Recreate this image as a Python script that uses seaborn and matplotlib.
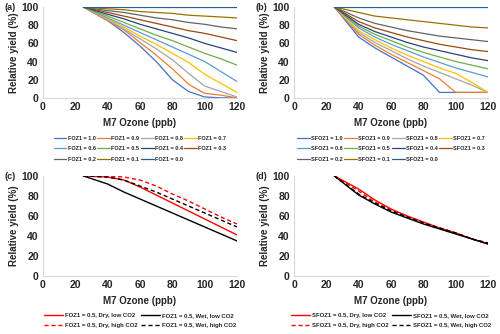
import pandas as pd
import seaborn as sns
from matplotlib import pyplot as plt

# Data
ozone = [25, 40, 50, 60, 70, 80, 90, 100, 110, 120]
foz_levels = ['1.0', '0.9', '0.8', '0.7', '0.6', '0.5', '0.4', '0.3', '0.2', '0.1', '0.0']

foz_a = [
    [100, 85, 72, 57, 40, 20, 7, 1, 0, 0],
    [100, 85, 75, 61, 47, 32, 15, 5, 3, 0],
    [100, 86, 76, 65, 54, 42, 27, 13, 7, 1],
    [100, 87, 78, 68, 59, 49, 39, 26, 16, 6],
    [100, 88, 80, 72, 64, 56, 48, 40, 29, 18],
    [100, 90, 83, 76, 69, 63, 56, 49, 43, 36],
    [100, 92, 87, 81, 76, 71, 66, 60, 55, 50],
    [100, 94, 90, 86, 82, 78, 74, 71, 67, 63],
    [100, 96, 94, 91, 88, 86, 83, 81, 78, 76],
    [100, 98, 97, 95, 94, 93, 91, 90, 89, 88],
    [100, 100, 100, 100, 100, 100, 100, 100, 100, 100],
]

sfoz_b = [
    [100, 67, 55, 45, 35, 25, 6, 6, 6, 6],
    [100, 70, 58, 48, 39, 30, 21, 6, 6, 6],
    [100, 72, 61, 52, 43, 35, 28, 21, 14, 6],
    [100, 74, 64, 55, 47, 40, 33, 27, 17, 6],
    [100, 77, 67, 59, 52, 45, 39, 33, 28, 23],
    [100, 79, 70, 63, 56, 50, 45, 40, 36, 32],
    [100, 81, 73, 67, 61, 56, 52, 48, 44, 41],
    [100, 84, 77, 72, 67, 63, 59, 56, 53, 51],
    [100, 88, 82, 78, 74, 71, 68, 66, 64, 62],
    [100, 94, 90, 88, 86, 84, 82, 80, 78, 77],
    [100, 100, 100, 100, 100, 100, 100, 100, 100, 100],
]

# panel c/d: dry low, dry high, wet low, wet high
scen_names = ['Dry, low CO2', 'Dry, high CO2', 'Wet, low CO2', 'Wet, high CO2']
foz_c = [
    [100, 99, 96, 89, 81, 73, 65, 57, 49, 41],
    [100, 100, 99, 96, 90, 82, 75, 67, 59, 52],
    [100, 92, 84, 77, 70, 63, 56, 49, 42, 35],
    [100, 99, 96, 90, 84, 77, 70, 63, 56, 49],
]
sfoz_d = [
    [100, 87, 76, 67, 60, 54, 48, 43, 37, 32],
    [100, 85, 74, 66, 59, 53, 48, 43, 37, 32],
    [100, 81, 72, 64, 58, 52, 47, 42, 37, 32],
    [100, 82, 73, 65, 59, 53, 48, 43, 37, 33],
]

excel_colors = ['#4472C4', '#ED7D31', '#A5A5A5', '#FFC000', '#5B9BD5', '#70AD47',
                '#264478', '#9E480E', '#636363', '#997300', '#255E91']

sns.set_style('white')
plt.rcParams['font.family'] = ['Liberation Sans', 'DejaVu Sans']

fig = plt.figure(figsize=(5, 3.34), dpi=100)
boxes = {'a': [0.086, 0.707, 0.388, 0.272], 'b': [0.588, 0.707, 0.388, 0.272],
         'c': [0.086, 0.174, 0.388, 0.299], 'd': [0.588, 0.174, 0.388, 0.299]}


def style_axes(ax, tag):
    ax.set_xlim(0, 120)
    ax.set_ylim(0, 100)
    ax.set_xticks(range(0, 121, 20))
    ax.set_yticks(range(0, 101, 20))
    for s in ['top', 'right']:
        ax.spines[s].set_visible(False)
    for s in ['left', 'bottom']:
        ax.spines[s].set_color('#D9D9D9')
        ax.spines[s].set_linewidth(0.8)
    ax.tick_params(length=0, labelsize=7.5, pad=3)
    for lab in ax.get_xticklabels() + ax.get_yticklabels():
        lab.set_fontweight('bold')
    ax.set_xlabel('M7 Ozone (ppb)', fontsize=7, fontweight='bold', labelpad=4)
    ax.set_ylabel('Relative yield (%)', fontsize=7, fontweight='bold', labelpad=2)
    pos = ax.get_position()
    fig.text(pos.x0 - 0.076, pos.y1, '(' + tag + ')', fontsize=6.5,
             fontweight='bold', va='center', ha='left')


# Panels a and b
for tag, prefix, data in [('a', 'FOZ1', foz_a), ('b', 'SFOZ1', sfoz_b)]:
    ax = fig.add_axes(boxes[tag])
    for i, lvl in enumerate(foz_levels):
        sns.lineplot(x=ozone, y=data[i], color=excel_colors[i], linewidth=0.9,
                     label=prefix + ' = ' + lvl, ax=ax)
    style_axes(ax, tag)
    h, l = ax.get_legend_handles_labels()
    order = [0, 4, 8, 1, 5, 9, 2, 6, 10, 3, 7]
    ax.legend([h[k] for k in order], [l[k] for k in order], ncol=4,
              loc='upper center', bbox_to_anchor=(0.5, -0.36), frameon=False,
              prop={'size': 4, 'weight': 'bold'}, handlelength=2.3,
              columnspacing=0.3, handletextpad=0.2, labelspacing=1.0)

# Panels c and d
styles = [('red', (None, None)), ('red', (3, 2)), ('black', (None, None)), ('black', (3, 2))]
for tag, prefix, data in [('c', 'FOZ1', foz_c), ('d', 'SFOZ1', sfoz_d)]:
    ax = fig.add_axes(boxes[tag])
    for i, name in enumerate(scen_names):
        line_kw = {} if styles[i][1][0] is None else {'dashes': styles[i][1]}
        sns.lineplot(x=ozone, y=data[i], color=styles[i][0], linewidth=1.0,
                     label=prefix + ' = 0.5, ' + name, ax=ax, **line_kw)
    style_axes(ax, tag)
    ax.legend(ncol=2, loc='upper center', bbox_to_anchor=(0.5, -0.32), frameon=False,
              prop={'size': 4.3, 'weight': 'bold'}, handlelength=3.2,
              columnspacing=0.5, handletextpad=0.3, labelspacing=0.7)

fig.savefig('out.png', dpi=100)
